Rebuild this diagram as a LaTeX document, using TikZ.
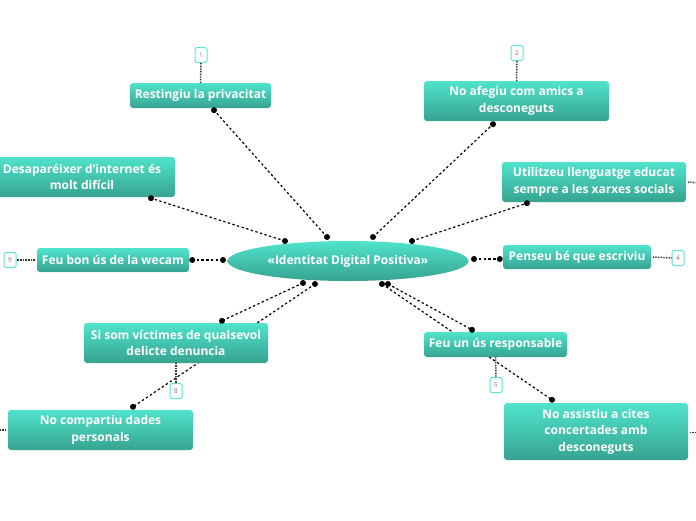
\documentclass[tikz,border=0pt]{standalone}
\usepackage{fontspec}
\setmainfont{Open Sans}
\usetikzlibrary{backgrounds,shapes.geometric}
\definecolor{tealtop}{HTML}{50E3CB}
\definecolor{tealbot}{HTML}{36A391}
\definecolor{tagedge}{HTML}{5FE3D2}
\definecolor{taggray}{HTML}{7A7A7A}
\tikzset{
  topic/.style={rectangle, rounded corners=3pt, top color=tealtop, bottom color=tealbot,
    draw=none, text=white, font=\fontsize{12}{16.5}\selectfont\bfseries, align=center, inner sep=0pt},
  central/.style={ellipse, top color=tealtop, bottom color=tealbot, draw=none, text=white,
    font=\fontsize{12}{16.5}\selectfont\bfseries, inner sep=0pt, minimum width=241pt, minimum height=40pt},
  tag/.style={rectangle, rounded corners=1.5pt, draw=tagedge, line width=1pt, fill=white,
    text=taggray, font=\fontsize{6.5}{7}\selectfont, inner sep=0pt, minimum width=12pt, minimum height=15pt},
  conn/.style={draw=black, line width=1.2pt, dash pattern=on 2.4pt off 2.4pt},
  tagline/.style={draw=black!80, line width=1.5pt, dash pattern=on 0.8pt off 0.8pt},
  enddot/.style={fill=black},
}
\begin{document}
\begin{tikzpicture}[x=1pt,y=-1pt]
\useasboundingbox (0,0) rectangle (696,520);
\clip (0,0) rectangle (696,520);
% nodes
\node[central] (c) at (348,261) {«Identitat Digital Positiva»};
\node[topic, minimum width=141pt, minimum height=25pt] (n1) at (200.5,95.5) {Restingiu la privacitat};
\node[topic, minimum width=185pt, minimum height=40pt] (n2) at (516.5,101) {No afegiu com amics a\\desconeguts};
\node[topic, minimum width=184pt, minimum height=40pt] (n3) at (594,182) {Utilitzeu llenguatge educat\\sempre a les xarxes socials};
\node[topic, minimum width=148pt, minimum height=24pt] (n4) at (577,257) {Penseu bé que escriviu};
\node[topic, minimum width=143pt, minimum height=25pt] (n5) at (495.5,344.5) {Feu un ús responsable};
\node[topic, minimum width=184pt, minimum height=57pt] (n6) at (596,431.5) {No assistiu a cites\\concertades amb\\desconeguts};
\node[topic, minimum width=186pt, minimum height=40pt] (n7) at (82,177) {Desaparéixer d'internet és\\molt difícil};
\node[topic, minimum width=184pt, minimum height=40pt] (n8) at (176,343) {Si som víctimes de qualsevol\\delicte denuncia};
\node[topic, minimum width=185pt, minimum height=40pt] (nb) at (100.5,430) {No compartiu dades\\personals};
\node[topic, minimum width=152pt, minimum height=24pt] (n9) at (113,260) {Feu bon ús de la wecam};
% tags
\node[tag] (t1) at (201,55) {1};
\node[tag] (t2) at (517,53) {2};
\node[tag] (t4) at (678,258) {4};
\node[tag] (t5) at (496,385) {5};
\node[tag] (t8) at (176,391) {8};
\node[tag] (t9) at (10,260) {9};
% connector end points
\coordinate (a1) at ([shift={(-21,-24)}]c.center);
\coordinate (b1) at ([shift={(13.5,2)}]n1.south);
\coordinate (a2) at ([shift={(25,-24)}]c.center);
\coordinate (b2) at ([shift={(-23.5,3)}]n2.south);
\coordinate (a3) at ([shift={(64,-20)}]c.center);
\coordinate (b3) at ([shift={(-67,1)}]n3.south);
\coordinate (a4) at ([shift={(126,-2)}]c.center);
\coordinate (b4) at ([shift={(-3,2)}]n4.west);
\coordinate (a9) at ([shift={(-125,-1)}]c.center);
\coordinate (b9) at ([shift={(3,0)}]n9.east);
\coordinate (a7) at ([shift={(-63,-20)}]c.center);
\coordinate (b7) at ([shift={(69,1)}]n7.south);
\coordinate (a8) at ([shift={(-45,22)}]c.center);
\coordinate (b8) at ([shift={(46,-2)}]n8.north);
\coordinate (ab) at ([shift={(-33,23)}]c.center);
\coordinate (bb) at ([shift={(32.5,-3)}]nb.north);
\coordinate (a5) at ([shift={(40,23)}]c.center);
\coordinate (b5) at ([shift={(-23.5,-2)}]n5.north);
\coordinate (a6) at ([shift={(34,23)}]c.center);
\coordinate (b6) at ([shift={(-44,-3)}]n6.north);
\coordinate (e3) at ([shift={(12,1)}]n3.east);
\coordinate (e6) at ([shift={(12,1)}]n6.east);
\coordinate (eb) at ([shift={(-12,0)}]nb.west);
\begin{pgfonlayer}{background}
\foreach \i in {1,2,3,4,9,7,8,b,5,6}{
  \draw[conn] (a\i) -- (b\i);
}
\end{pgfonlayer}
\foreach \i in {1,2,3,4,9,7,8,b,5,6}{
  \fill[enddot] (a\i) circle (3pt);
  \fill[enddot] (b\i) circle (3pt);
}
% tag lines
\draw[tagline] (t1.south) -- (n1.north);
\draw[tagline] (t2.south) -- (n2.north);
\draw[tagline] ([xshift=2pt]n4.east) -- (t4.west);
\draw[tagline] (n5.south) -- (t5.north);
\draw[tagline] (n8.south) -- (t8.north);
\draw[tagline] (t9.east) -- ([xshift=-2pt]n9.west);
\draw[tagline] ([xshift=2pt]n3.east) -- (e3);
\draw[tagline] ([shift={(2pt,1)}]n6.east) -- (e6);
\draw[tagline] ([xshift=-2pt]nb.west) -- (eb);
\end{tikzpicture}
\end{document}
